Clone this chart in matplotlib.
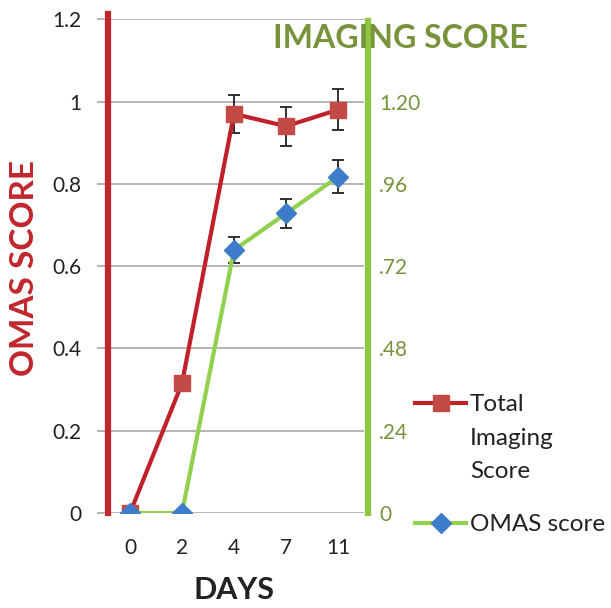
import numpy as np
import matplotlib.pyplot as plt
from matplotlib.lines import Line2D

plt.rcParams['font.family'] = ['Lato', 'DejaVu Sans']

days = ['0', '2', '4', '7', '11']
total_imaging = [0, 0.315, 0.97, 0.94, 0.98]
total_err = [0, 0, 0.047, 0.047, 0.05]
omas = [0, 0, 0.639, 0.728, 0.817]
omas_err = [0, 0, 0.032, 0.036, 0.04]
left_ticks = [0, 0.2, 0.4, 0.6, 0.8, 1, 1.2]
left_labels = ['0', '0.2', '0.4', '0.6', '0.8', '1', '1.2']
right_ticks = [0, 0.24, 0.48, 0.72, 0.96, 1.20]
right_labels = ['0', '.24', '.48', '.72', '.96', '1.20']
legend_labels = ['Total\nImaging\nScore', 'OMAS score']

red_line = '#c0202a'
red_mark = '#c44a45'
green_line = '#92d050'
blue_mark = '#3d7cc9'
olive = '#77933c'

fig = plt.figure(figsize=(6.11, 6.08), dpi=100)
ax = fig.add_axes([0.1702, 0.1562, 0.4255, 0.8122])
x = np.arange(len(days))

ax.errorbar(x, total_imaging, yerr=total_err, fmt='none', ecolor='#222222',
            elinewidth=1.3, capsize=4.2, capthick=1.3, zorder=3)
ax.plot(x, total_imaging, color=red_line, lw=3, marker='s', ms=11,
        mfc=red_mark, mec=red_mark, zorder=4)
ax.errorbar(x, omas, yerr=omas_err, fmt='none', ecolor='#222222',
            elinewidth=1.3, capsize=4.2, capthick=1.3, zorder=5)
ax.plot(x, omas, color=green_line, lw=3, marker='D', ms=10,
        mfc=blue_mark, mec=blue_mark, zorder=6)

ax.set_xlim(-0.5, len(days) - 0.5)
ax.set_ylim(0, 1.2)
ax.set_xticks(x)
ax.set_xticklabels(days)
ax.set_yticks(left_ticks)
ax.set_yticklabels(left_labels)
ax.grid(axis='y', color='#a0a0a0', lw=1.1)
ax.set_axisbelow(True)
for s in ['left', 'bottom', 'top', 'right']:
    ax.spines[s].set_visible(False)
ax.tick_params(axis='y', length=5, color='#a0a0a0', width=1.1, pad=11,
               labelsize=15, labelcolor='#222222')
ax.tick_params(axis='x', length=0, pad=18, labelsize=15, labelcolor='#222222')

# thick red bar for left axis
ax.axvline(-0.42, ymin=0, ymax=1.01, color='#c1272d', lw=4.5, clip_on=False, zorder=2)

ax2 = ax.twinx()
ax2.set_ylim(0, 1.44)
ax2.set_yticks(right_ticks)
ax2.set_yticklabels(right_labels)
for s in ['left', 'bottom', 'top']:
    ax2.spines[s].set_visible(False)
ax2.spines['right'].set_color('#8dc63f')
ax2.spines['right'].set_linewidth(4.5)
ax2.spines['right'].set_position(('outward', 3))
ax2.spines['right'].set_bounds(0, 1.435)
ax2.tick_params(axis='y', length=0, pad=8, labelsize=15, labelcolor=olive)

fig.text(25 / 611, 1 - 268 / 608, 'OMAS SCORE', rotation=90, color='#c0272d',
         fontsize=24, fontweight='bold', ha='center', va='center')
fig.text(400 / 611, 1 - 38 / 608, 'IMAGING SCORE', color=olive,
         fontsize=23, fontweight='bold', ha='center', va='center')
fig.text(234 / 611, 1 - 590 / 608, 'DAYS', color='#222222',
         fontsize=22, fontweight='bold', ha='center', va='center')

# legend
for lab, ly, lc, mk, mc, ms in [(legend_labels[0], 403, red_line, 's', red_mark, 11),
                                (legend_labels[1], 523, green_line, 'D', blue_mark, 10)]:
    yf = 1 - ly / 608
    fig.add_artist(Line2D([415 / 611, 466 / 611], [yf, yf], color=lc, lw=3))
    fig.add_artist(Line2D([440.5 / 611], [yf], marker=mk, ms=ms, mfc=mc, mec=mc, lw=0))
    fig.text(470 / 611, yf + 9 / 608, lab, fontsize=17.5, color='#222222',
             ha='left', va='top', linespacing=1.75)

fig.savefig('out.png', dpi=100)
